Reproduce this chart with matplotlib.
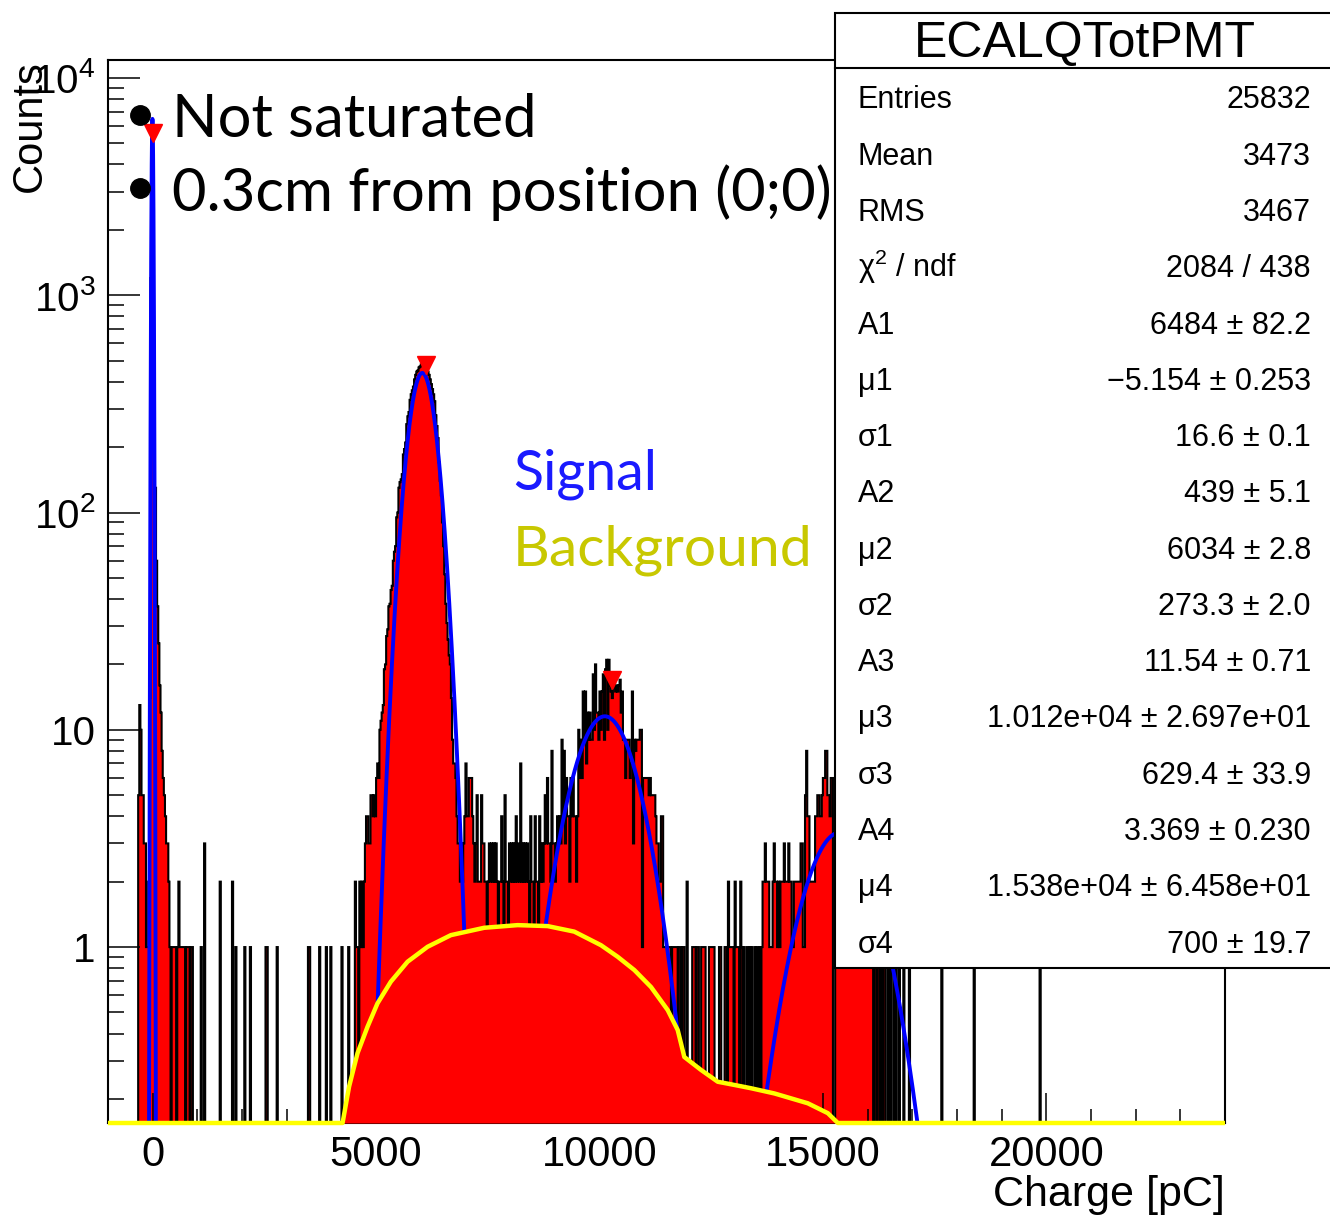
import numpy as np
import matplotlib
matplotlib.use('Agg')
import matplotlib.pyplot as plt
from matplotlib.ticker import MultipleLocator, LogLocator, NullFormatter
from matplotlib.patches import Rectangle
from matplotlib.lines import Line2D

plt.rcParams['font.family'] = ['Liberation Sans', 'DejaVu Sans']
plt.rcParams['mathtext.fontset'] = 'custom'
plt.rcParams['mathtext.rm'] = 'Liberation Sans'
plt.rcParams['mathtext.default'] = 'regular'

##
## Histogram contents (bin width 25 pC, range -1000 .. 24000)
##
bin_width = 25
x_lo, x_hi = -1000, 24000

pedestal_start = -350
pedestal_counts = [0, 5, 13, 10, 5, 5, 3, 3, 1, 1, 2, 14, 1200, 5470, 3700, 370,
                   130, 60, 37, 25, 16, 12, 8, 6, 5, 4, 3, 3, 2, 1, 0, 1, 1, 1,
                   1, 0, 1, 2, 1, 1, 1, 1, 1, 0, 1, 1, 1, 0, 1, 1]

# isolated bins between the pedestal and the first peak
sparse_x = [1075, 1150, 1500, 1775, 1850, 2050, 2175, 2525, 2550, 2775, 3475,
            3500, 3725, 3875, 3975, 4225, 4375, 4525]
sparse_n = [1, 3, 2, 2, 1, 1, 1, 1, 1, 1, 1, 1, 1, 1, 1, 1, 1, 2]

peak2_start = 4550
peak2_counts = [1, 1, 0, 2, 1, 2, 1, 2, 3, 4, 4, 3, 3, 5, 5, 4, 5, 4, 6, 7, 6,
                10, 11, 12, 13, 19, 20, 27, 29, 37, 38, 44, 46, 60, 66, 70, 95,
                100, 130, 138, 142, 150, 185, 196, 210, 255, 277, 290, 330, 350,
                365, 380, 410, 430, 445, 450, 465, 470, 480, 485, 480, 478, 470,
                460, 445, 430, 410, 390, 370, 350, 325, 280, 250, 220, 170, 140,
                120, 90, 70, 52, 38, 31, 26, 22, 20, 14, 9, 7, 7, 6, 4, 3, 3, 2,
                3, 2, 3, 4, 7, 4, 4, 6, 6]

peak3_start = 7125
peak3_counts = [6, 4, 3, 2, 3, 5, 2, 2, 2, 5,
                3, 3, 2, 2, 1, 2, 3, 2, 3, 2,
                3, 2, 3, 2, 1, 2, 2, 4, 2, 1,
                5, 2, 2, 1, 3, 2, 3, 2, 3, 2,
                4, 2, 3, 2, 7, 2, 3, 2, 3, 2,
                3, 2, 1, 4, 2, 2, 1, 4, 2, 2,
                1, 4, 2, 3, 2, 3, 5, 3, 6, 3,
                3, 2, 8, 3, 3, 2, 3, 4, 3, 4,
                3, 9, 4, 8, 3, 6, 4, 4, 2, 6,
                4, 6, 4, 4, 2, 4, 10, 6, 9, 6,
                15, 9, 15, 7, 12, 9, 12, 9, 9, 18,
                10, 20, 12, 12, 9, 15, 10, 15, 18, 9,
                19, 21, 10, 21, 16, 15, 14, 18, 17, 15,
                16, 15, 16, 17, 12, 15, 9, 9, 6, 9,
                9, 9, 6, 7, 15, 3, 9, 8, 9, 9,
                9, 10, 10, 1, 6, 6, 6, 6, 6, 5,
                6, 5, 5, 5, 5, 4, 3, 3, 2, 2,
                4, 4, 1, 1, 1, 1, 1, 1, 1, 0,
                1, 1, 1, 1, 1, 0, 1, 1, 0, 1,
                1, 0, 0, 2, 0]

tail_start = 12000
tail_counts = [0, 0, 0, 1, 1, 1, 0, 1, 1, 0, 0, 1, 1, 1, 1, 0, 0, 0, 1, 1, 1, 1,
               1, 0, 0, 0, 0, 1, 1, 0, 0, 0, 1, 1, 0, 2, 1, 1, 1, 1, 0, 2, 1, 1,
               1, 0, 2, 1, 0, 1, 0, 0, 1, 0, 1, 0, 1, 0, 0, 1, 0, 1, 0, 1, 0, 1,
               2, 2, 3, 2, 2, 2, 1, 1, 1, 2, 3, 2, 2, 1, 2, 1, 2, 2, 2, 3, 2, 2,
               2, 3, 2, 2, 1, 1, 2, 2, 2, 2, 2, 2, 3, 3, 1, 1, 5, 8, 4, 4, 2, 2,
               2, 2, 2, 4, 4, 5, 5, 4, 4, 5, 6, 6, 8, 8, 5, 5, 4, 6, 6]

peak4_start = 15275
peak4_counts = [5, 7, 4, 6, 5, 4, 6, 5, 3, 5, 4, 4, 3, 4, 3, 3, 4, 2, 3, 3, 2,
                2, 3, 2, 2, 2, 1, 2, 2, 1, 2, 1, 1, 1, 0, 1, 1, 0, 1, 1, 0, 1,
                0, 1, 1, 0, 0, 1, 0, 1, 0, 0, 1, 0, 1, 0, 0, 1, 0]

far_x = [16800, 16925, 17650, 18375, 19850]
far_n = [1, 1, 1, 1, 1]

# fit parameters (four gaussians)
amp = [6484, 439, 11.54, 3.369]
mean = [-5.154, 6034, 10120, 15380]
sigma = [16.6, 273.3, 629.4, 700]

# background shape
bg_x = [-1000, 4250, 4396, 4585, 4809, 5032, 5330, 5704, 6152, 6674, 7420,
        8168, 8840, 9436, 10034, 10408, 10780, 11153, 11527, 11751, 11899,
        12273, 12647, 13019, 13393, 13915, 14663, 15111, 15335, 24000]
bg_y = [0.155, 0.155, 0.228, 0.325, 0.430, 0.551, 0.693, 0.856, 1.003, 1.135,
        1.227, 1.262, 1.249, 1.178, 1.02, 0.902, 0.784, 0.655, 0.513, 0.415,
        0.312, 0.272, 0.240, 0.232, 0.224, 0.212, 0.191, 0.172, 0.155, 0.155]

# peaks found by the peak search
mark_x = [0, 6110, 10280]
mark_y = [5600, 480, 17]

stats_title = 'ECALQTotPMT'
stats_rows = [('Entries', '25832'), ('Mean', '3473'), ('RMS', '3467'),
              ('χ$^{2}$ / ndf', '2084 / 438'),
              ('A1', '6484 ± 82.2'), ('μ1', '−5.154 ± 0.253'), ('σ1', '16.6 ± 0.1'),
              ('A2', '439 ± 5.1'), ('μ2', '6034 ± 2.8'), ('σ2', '273.3 ± 2.0'),
              ('A3', '11.54 ± 0.71'), ('μ3', '1.012e+04 ± 2.697e+01'),
              ('σ3', '629.4 ± 33.9'), ('A4', '3.369 ± 0.230'),
              ('μ4', '1.538e+04 ± 6.458e+01'), ('σ4', '700 ± 19.7')]

##
## Build histogram
##
edges = np.arange(x_lo, x_hi + bin_width, bin_width)
counts = np.zeros(len(edges) - 1)

def put(start, vals):
    i0 = (start - x_lo) // bin_width
    counts[i0:i0 + len(vals)] = vals

put(pedestal_start, pedestal_counts)
put(peak2_start, peak2_counts)
put(peak3_start, peak3_counts)
put(tail_start, tail_counts)
put(peak4_start, peak4_counts)
for x, n in zip(sparse_x + far_x, sparse_n + far_n):
    counts[(x - x_lo) // bin_width] = n

ymin, ymax = 0.155, 12100
floor = 1e-2
hvals = np.where(counts > 0, counts, floor)

W, H = 1330, 1217
fig = plt.figure(figsize=(W / 100, H / 100), dpi=100)
ax = fig.add_axes([108 / W, 1 - 1123 / H, (1225 - 108) / W, (1123 - 60) / H])

ax.stairs(hvals, edges, baseline=floor, fill=True, color='red', lw=0, zorder=1)
ax.stairs(hvals, edges, baseline=floor, color='black', lw=1.5, zorder=2)

xf = np.linspace(x_lo, x_hi, 50001)
yf = np.zeros_like(xf)
for a, m, s in zip(amp, mean, sigma):
    yf += a * np.exp(-0.5 * ((xf - m) / s) ** 2)
yf = np.maximum(yf, 1e-3)
ax.plot(xf, yf, color='#0000ff', lw=2.8, zorder=3)

ax.fill_between(bg_x, ymin, bg_y, color='red', lw=0, zorder=4)
ax.plot(bg_x, bg_y, color='#ffff00', lw=3.2, zorder=5, clip_on=False,
        solid_capstyle='butt')

ax.plot(mark_x, mark_y, 'v', color='red', ms=13, zorder=6, clip_on=False)

ax.set_xlim(x_lo, x_hi)
ax.set_yscale('log')
ax.set_ylim(ymin, ymax)

ax.xaxis.set_major_locator(MultipleLocator(5000))
ax.xaxis.set_minor_locator(MultipleLocator(1000))
ax.set_xticks([0, 5000, 10000, 15000, 20000],
              labels=['0', '5000', '10000', '15000', '20000'])
ax.set_yticks([1, 10, 100, 1000, 10000],
              labels=['1', '10', '$10^{2}$', '$10^{3}$', '$10^{4}$'])
ax.yaxis.set_minor_locator(LogLocator(base=10, subs=np.arange(2, 10)))
ax.yaxis.set_minor_formatter(NullFormatter())
ax.tick_params(axis='x', which='major', direction='in', length=21.5, width=1.1,
               labelsize=30, pad=9, top=False)
ax.tick_params(axis='x', which='minor', direction='in', length=10, width=1.1,
               top=False)
ax.tick_params(axis='y', which='major', direction='in', length=23, width=1.1,
               labelsize=29, pad=9, right=False)
ax.tick_params(axis='y', which='minor', direction='in', length=11.5, width=1.1,
               right=False)
for sp in ax.spines.values():
    sp.set_linewidth(1.5)

fig.text(30 / W, 1 - 60 / H, 'Counts', rotation=90, ha='center', va='top',
         fontsize=30)
fig.text(1225 / W, 1 - 1195 / H, 'Charge [pC]', ha='right', va='center',
         fontsize=31)

# annotations
for yb in [115, 188]:
    fig.add_artist(Line2D([140 / W], [1 - yb / H], marker='o', ms=14,
                          color='black', transform=fig.transFigure))
fig.text(172 / W, 1 - 137 / H, 'Not saturated', family='Lato', fontsize=43,
         va='baseline')
fig.text(172 / W, 1 - 211 / H, '0.3cm from position (0;0)', family='Lato',
         fontsize=43, va='baseline')
fig.text(513 / W, 1 - 490 / H, 'Signal', family='Lato', fontsize=40,
         color='#1a1aff', va='baseline')
fig.text(513 / W, 1 - 565 / H, 'Background', family='Lato', fontsize=41,
         color='#c8c800', va='baseline')

# statistics box
box = Rectangle((835 / W, 1 - 968 / H), (1340 - 835) / W, (968 - 13) / H,
                transform=fig.transFigure, facecolor='white', edgecolor='black',
                lw=1.5, zorder=10)
fig.add_artist(box)
fig.add_artist(Line2D([835 / W, 1], [1 - 68 / H, 1 - 68 / H], color='black',
                      lw=1.5, transform=fig.transFigure, zorder=11))
fig.text(1085 / W, 1 - 57 / H, stats_title, ha='center', va='baseline',
         fontsize=36, zorder=12)
for i, (lab, val) in enumerate(stats_rows):
    yb = 108.5 + 56.27 * i
    fig.text(858 / W, 1 - yb / H, lab, ha='left', va='baseline', fontsize=22,
             zorder=12)
    fig.text(1311 / W, 1 - yb / H, val, ha='right', va='baseline', fontsize=22,
             zorder=12)

fig.savefig('out.png', dpi=100)
